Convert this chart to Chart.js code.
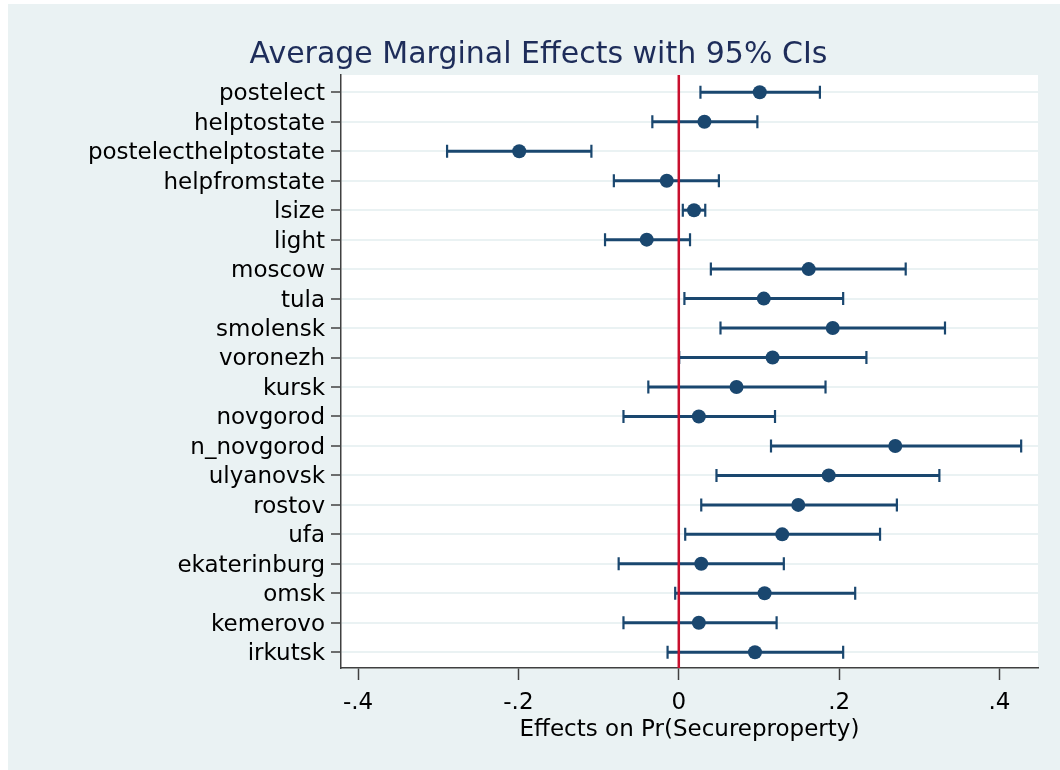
<!DOCTYPE html>
<html><head><meta charset="utf-8">
<script src="https://cdn.jsdelivr.net/npm/chart.js@4.4.1/dist/chart.umd.min.js"></script>
<style>html,body{margin:0;padding:0;background:#fff;}</style>
</head><body>
<canvas id="c" width="1060" height="770"></canvas>
<script>
const categories = ['postelect','helptostate','postelecthelptostate','helpfromstate','lsize','light','moscow','tula','smolensk','voronezh','kursk','novgorod','n_novgorod','ulyanovsk','rostov','ufa','ekaterinburg','omsk','kemerovo','irkutsk'];
const estimates = [0.101, 0.032, -0.199, -0.015, 0.019, -0.040, 0.162, 0.106, 0.192, 0.117, 0.072, 0.025, 0.270, 0.187, 0.149, 0.129, 0.028, 0.107, 0.025, 0.095];
const lower     = [0.027, -0.033, -0.289, -0.081, 0.005, -0.092, 0.040, 0.007, 0.052, 0.0005, -0.038, -0.069, 0.115, 0.047, 0.028, 0.008, -0.075, -0.0045, -0.069, -0.014];
const upper     = [0.176, 0.098, -0.109, 0.050, 0.033, 0.014, 0.283, 0.205, 0.332, 0.234, 0.183, 0.120, 0.427, 0.325, 0.272, 0.251, 0.131, 0.220, 0.122, 0.205];
const xTickValues = [-0.4, -0.2, 0, 0.2, 0.4];
const xTickLabels = ['-.4', '-.2', '0', '.2', '.4'];
const titleText = 'Average Marginal Effects with 95% CIs';
const xTitleText = 'Effects on Pr(Secureproperty)';

const NAVY = '#1a476f';
const BG = '#EAF2F3';
const AXIS = '#404040';
const FONT = "'DejaVu Sans', sans-serif";

const bgPlugin = {
  id: 'bgPlugin',
  beforeDraw(chart) {
    const {ctx, chartArea: a} = chart;
    ctx.save();
    ctx.fillStyle = '#ffffff';
    ctx.fillRect(0, 0, chart.width, chart.height);
    ctx.fillStyle = BG;
    ctx.fillRect(8, 4, chart.width - 8, chart.height - 4);
    ctx.fillStyle = '#ffffff';
    ctx.fillRect(a.left, a.top, a.right - a.left, a.bottom - a.top);
    ctx.restore();
  }
};

const ciPlugin = {
  id: 'ciPlugin',
  beforeDatasetsDraw(chart) {
    const {ctx, scales: {x, y}, chartArea: a} = chart;
    ctx.save();
    ctx.strokeStyle = NAVY;
    categories.forEach((_, i) => {
      const py = y.getPixelForValue(i);
      const x0 = x.getPixelForValue(lower[i]);
      const x1 = x.getPixelForValue(upper[i]);
      ctx.lineWidth = 3;
      ctx.beginPath(); ctx.moveTo(x0, py); ctx.lineTo(x1, py); ctx.stroke();
      ctx.lineWidth = 2.2;
      ctx.beginPath();
      ctx.moveTo(x0, py - 6.5); ctx.lineTo(x0, py + 6.5);
      ctx.moveTo(x1, py - 6.5); ctx.lineTo(x1, py + 6.5);
      ctx.stroke();
    });
    const zx = x.getPixelForValue(0);
    ctx.strokeStyle = '#c8102e';
    ctx.lineWidth = 2.5;
    ctx.beginPath(); ctx.moveTo(zx, a.top); ctx.lineTo(zx, a.bottom); ctx.stroke();
    ctx.restore();
  }
};

new Chart(document.getElementById('c'), {
  type: 'scatter',
  data: {
    datasets: [{
      data: estimates.map((v, i) => ({x: v, y: i})),
      pointRadius: 7,
      pointHoverRadius: 7,
      backgroundColor: NAVY,
      borderColor: NAVY,
      borderWidth: 0,
      showLine: false
    }]
  },
  options: {
    responsive: false,
    animation: false,
    devicePixelRatio: 1,
    layout: {padding: {left: 39, right: 22, top: 0, bottom: 0}},
    plugins: {
      legend: {display: false},
      tooltip: {enabled: false},
      title: {
        display: true,
        text: titleText,
        color: '#1e2d5a',
        font: {family: FONT, size: 30, weight: 'normal'},
        padding: {top: 37, bottom: 2}
      }
    },
    scales: {
      x: {
        type: 'linear',
        position: 'bottom',
        min: -0.4213,
        max: 0.448,
        afterBuildTicks: s => { s.ticks = xTickValues.map(v => ({value: v})); },
        afterFit: s => { s.height = 102; },
        ticks: {
          color: '#000',
          font: {family: FONT, size: 23},
          padding: 9,
          maxRotation: 0,
          autoSkip: false,
          callback: (v) => { const k = xTickValues.findIndex(t => Math.abs(t - v) < 1e-9); return k >= 0 ? xTickLabels[k] : ''; }
        },
        grid: {drawOnChartArea: false, drawTicks: true, tickLength: 12, tickColor: AXIS, tickWidth: 1.5},
        border: {display: true, color: AXIS, width: 1.5},
        title: {
          display: true,
          text: xTitleText,
          color: '#000',
          font: {family: FONT, size: 23},
          padding: {top: 0, bottom: 26}
        }
      },
      y: {
        type: 'linear',
        reverse: true,
        min: -0.587,
        max: 19.535,
        afterBuildTicks: s => { s.ticks = categories.map((_, i) => ({value: i})); },
        afterFit: s => { s.width = 302; },
        ticks: {
          color: '#000',
          font: {family: FONT, size: 23},
          padding: 6,
          labelOffset: 2,
          autoSkip: false,
          callback: (v) => categories[Math.round(v)] ?? ''
        },
        grid: {color: BG, lineWidth: 2, drawTicks: true, tickLength: 10, tickColor: AXIS, tickWidth: 1.5},
        border: {display: true, color: AXIS, width: 1.5}
      }
    }
  },
  plugins: [bgPlugin, ciPlugin]
});
</script>
</body></html>
